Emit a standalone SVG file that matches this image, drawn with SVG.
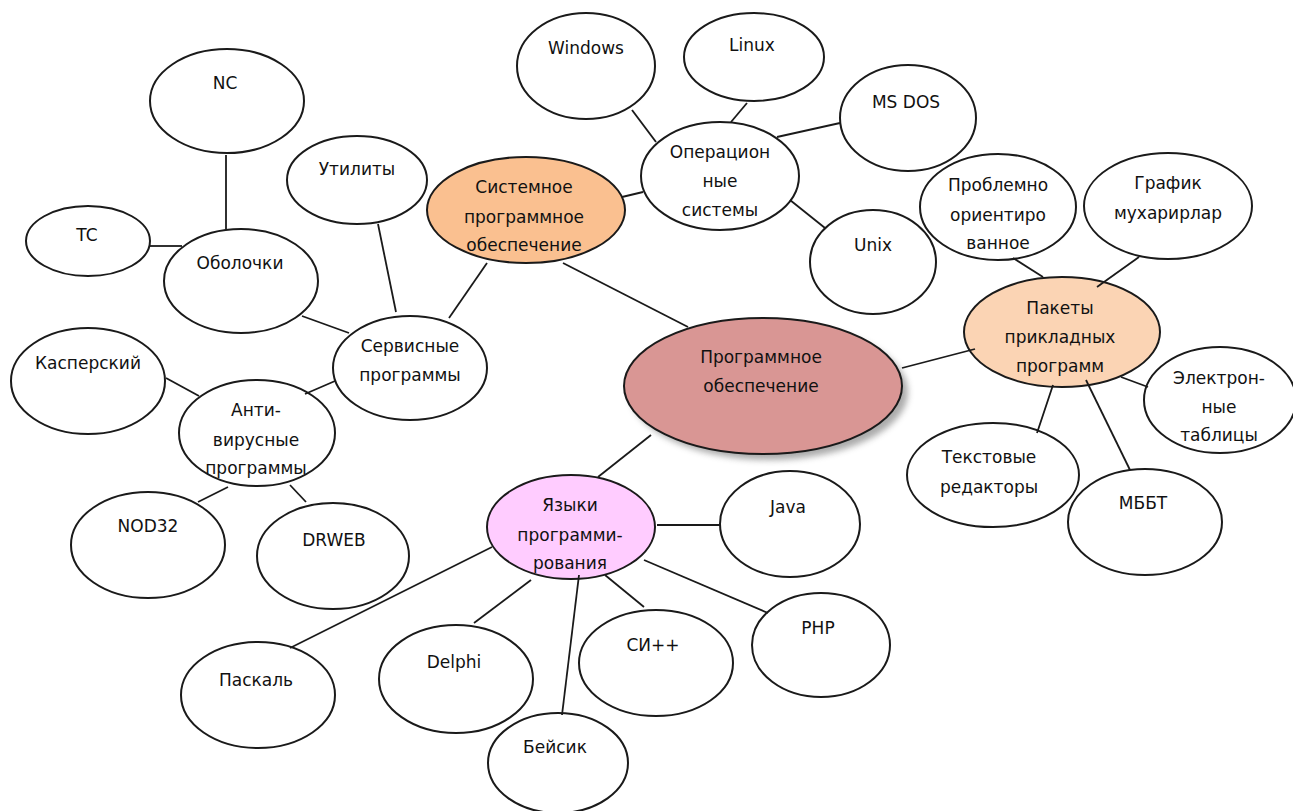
<svg xmlns="http://www.w3.org/2000/svg" width="1293" height="811" viewBox="0 0 1293 811">
<style>
.n{fill:#fff;stroke:#1a1a1a;stroke-width:2}
.c line{stroke:#1a1a1a;stroke-width:1.8}
text{font-family:"DejaVu Sans","Noto Sans",sans-serif;font-size:17px;fill:#111;text-anchor:middle}
</style>
<defs>
<filter id="sh" x="-20%" y="-20%" width="150%" height="150%"><feGaussianBlur stdDeviation="3"/></filter>
</defs>
<rect width="1293" height="811" fill="#fff"/>
<g id="n-windows"><ellipse class="n" cx="586" cy="66" rx="69" ry="53"/><text x="586" y="54">Windows</text></g>
<g id="n-linux"><ellipse class="n" cx="754" cy="57" rx="70" ry="44"/><text x="752" y="51">Linux</text></g>
<g id="n-msdos"><ellipse class="n" cx="908" cy="118" rx="68" ry="53"/><text x="906" y="108">MS DOS</text></g>
<g id="n-os"><ellipse class="n" cx="720" cy="176" rx="79" ry="54"/><text x="720" y="158">Операцион</text><text x="720" y="187">ные</text><text x="720" y="216">системы</text></g>
<g id="n-sys"><ellipse class="n" cx="526" cy="210" rx="99" ry="53" style="fill:#FAC090"/><text x="524" y="193">Системное</text><text x="524" y="223">программное</text><text x="524" y="251">обеспечение</text></g>
<g id="n-unix"><ellipse class="n" cx="873" cy="262" rx="63" ry="52"/><text x="873" y="251">Unix</text></g>
<g id="n-nc"><ellipse class="n" cx="227" cy="101" rx="77" ry="52"/><text x="225" y="89">NC</text></g>
<g id="n-tc"><ellipse class="n" cx="88" cy="241" rx="62" ry="35"/><text x="87" y="241">TC</text></g>
<g id="n-shell"><ellipse class="n" cx="241" cy="281" rx="77" ry="52"/><text x="240" y="269">Оболочки</text></g>
<g id="n-util"><ellipse class="n" cx="357" cy="180" rx="70" ry="44"/><text x="357" y="175">Утилиты</text></g>
<g id="n-serv"><ellipse class="n" cx="410" cy="368" rx="77" ry="52"/><text x="410" y="352">Сервисные</text><text x="410" y="381">программы</text></g>
<g id="n-kasp"><ellipse class="n" cx="88" cy="381" rx="77" ry="53"/><text x="88" y="369">Касперский</text></g>
<g id="n-anti"><ellipse class="n" cx="257" cy="433" rx="78" ry="53"/><text x="256" y="416">Анти-</text><text x="256" y="446">вирусные</text><text x="256" y="474">программы</text></g>
<g id="n-nod"><ellipse class="n" cx="148" cy="545" rx="77" ry="53"/><text x="148" y="532">NOD32</text></g>
<g id="n-drweb"><ellipse class="n" cx="333" cy="556" rx="76" ry="53"/><text x="334" y="546">DRWEB</text></g>
<g id="n-prob"><ellipse class="n" cx="998" cy="207" rx="78" ry="53"/><text x="998" y="191">Проблемно</text><text x="998" y="221">ориентиро</text><text x="998" y="249">ванное</text></g>
<g id="n-graf"><ellipse class="n" cx="1168" cy="206" rx="84" ry="53"/><text x="1168" y="189">График</text><text x="1168" y="219">мухарирлар</text></g>
<g id="n-pak"><ellipse class="n" cx="1062" cy="332" rx="98" ry="55" style="fill:#FBD4B4"/><text x="1060" y="314">Пакеты</text><text x="1060" y="343">прикладных</text><text x="1060" y="372">программ</text></g>
<g id="n-main"><ellipse cx="769" cy="392" rx="139" ry="68" fill="#888" opacity="0.7" filter="url(#sh)"/><ellipse class="n" cx="763" cy="386" rx="139" ry="68" style="fill:#D99694"/><text x="761" y="363">Программное</text><text x="761" y="392">обеспечение</text></g>
<g id="n-el"><ellipse class="n" cx="1220" cy="400" rx="76" ry="53"/><text x="1219" y="384">Электрон-</text><text x="1219" y="413">ные</text><text x="1219" y="441">таблицы</text></g>
<g id="n-text"><ellipse class="n" cx="993" cy="475" rx="86" ry="52"/><text x="989" y="463">Текстовые</text><text x="989" y="493">редакторы</text></g>
<g id="n-mbbt"><ellipse class="n" cx="1145" cy="522" rx="77" ry="53"/><text x="1143" y="509">МББТ</text></g>
<g id="n-java"><ellipse class="n" cx="790" cy="524" rx="70" ry="53"/><text x="788" y="513">Java</text></g>
<g id="n-lang"><ellipse class="n" cx="571" cy="527" rx="84" ry="52" style="fill:#FFCCFF"/><text x="570" y="511">Языки</text><text x="570" y="541">программи-</text><text x="570" y="569">рования</text></g>
<g id="n-pascal"><ellipse class="n" cx="258" cy="695" rx="77" ry="53"/><text x="256" y="686">Паскаль</text></g>
<g id="n-delphi"><ellipse class="n" cx="456" cy="679" rx="77" ry="54"/><text x="454" y="668">Delphi</text></g>
<g id="n-basic"><ellipse class="n" cx="558" cy="763" rx="70" ry="50"/><text x="555" y="753">Бейсик</text></g>
<g id="n-cpp"><ellipse class="n" cx="656" cy="663" rx="77" ry="53"/><text x="653" y="651">СИ++</text></g>
<g id="n-php"><ellipse class="n" cx="821" cy="645" rx="69" ry="52"/><text x="818" y="634">PHP</text></g>
<g id="connectors" class="c">
<line x1="632" y1="110" x2="656" y2="142"/>
<line x1="747" y1="103" x2="731" y2="122"/>
<line x1="840" y1="123" x2="777" y2="137"/>
<line x1="622" y1="197" x2="643" y2="192"/>
<line x1="790" y1="200" x2="825" y2="228"/>
<line x1="487" y1="263" x2="449" y2="318"/>
<line x1="563" y1="263" x2="688" y2="327"/>
<line x1="226" y1="155" x2="226" y2="229"/>
<line x1="150" y1="246" x2="182" y2="246"/>
<line x1="378" y1="224" x2="396" y2="312"/>
<line x1="302" y1="316" x2="349" y2="333"/>
<line x1="166" y1="378" x2="199" y2="396"/>
<line x1="335" y1="381" x2="305" y2="394"/>
<line x1="228" y1="487" x2="198" y2="502"/>
<line x1="290" y1="485" x2="306" y2="502"/>
<line x1="1013" y1="258" x2="1043" y2="277"/>
<line x1="1139" y1="257" x2="1097" y2="287"/>
<line x1="902" y1="368" x2="975" y2="349"/>
<line x1="1121" y1="377" x2="1148" y2="387"/>
<line x1="1053" y1="385" x2="1037" y2="433"/>
<line x1="1086" y1="380" x2="1130" y2="470"/>
<line x1="651" y1="435" x2="598" y2="477"/>
<line x1="657" y1="525" x2="720" y2="525"/>
<line x1="492" y1="547" x2="290" y2="648"/>
<line x1="531" y1="580" x2="474" y2="623"/>
<line x1="579" y1="575" x2="562" y2="715"/>
<line x1="605" y1="575" x2="644" y2="607"/>
<line x1="644" y1="560" x2="768" y2="613"/>
</g>
</svg>
